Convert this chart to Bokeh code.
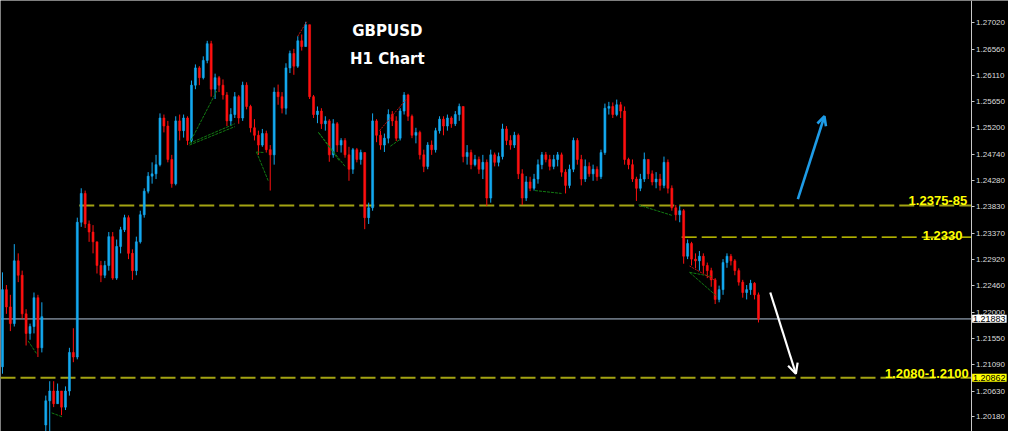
from bokeh.plotting import figure
from bokeh.models import (Range1d, FixedTicker, PrintfTickFormatter, Label,
                          Arrow, OpenHead, ColumnDataSource)
from bokeh.core.properties import value
from bokeh.embed import file_html
from bokeh.resources import INLINE

# ---------------- data (GBPUSD H1) ----------------
first_open = 1.2105
gap_index = 11          # weekend gap bar
gap_open = 1.2004

closes = [
    1.2239, 1.2209, 1.2180, 1.2289, 1.2264, 1.2197, 1.2163, 1.2175, 1.2225, 1.2138,
    1.2192, 1.2046, 1.2063, 1.2041, 1.2063, 1.2035, 1.2063, 1.2130, 1.2122, 1.2356,
    1.2406, 1.2353, 1.2339, 1.2322, 1.2281, 1.2264, 1.2281, 1.2331, 1.2259, 1.2314,
    1.2343, 1.2364, 1.2302, 1.2272, 1.2322, 1.2369, 1.2410, 1.2436, 1.2440, 1.2456,
    1.2537, 1.2523, 1.2465, 1.2423, 1.2532, 1.2515, 1.2537, 1.2498, 1.2594, 1.2624,
    1.2607, 1.2637, 1.2666, 1.2587, 1.2607, 1.2594, 1.2577, 1.2532, 1.2543, 1.2574,
    1.2537, 1.2594, 1.2557, 1.2520, 1.2507, 1.2490, 1.2510, 1.2482, 1.2473, 1.2582,
    1.2574, 1.2554, 1.2624, 1.2649, 1.2627, 1.2671, 1.2661, 1.2699, 1.2574, 1.2543,
    1.2549, 1.2527, 1.2532, 1.2473, 1.2527, 1.2490, 1.2498, 1.2473, 1.2448, 1.2482,
    1.2465, 1.2477, 1.2364, 1.2381, 1.2532, 1.2507, 1.2490, 1.2502, 1.2543, 1.2532,
    1.2502, 1.2549, 1.2577, 1.2540, 1.2507, 1.2512, 1.2473, 1.2453, 1.2490, 1.2482,
    1.2515, 1.2535, 1.2523, 1.2537, 1.2527, 1.2543, 1.2557, 1.2470, 1.2477, 1.2456,
    1.2465, 1.2448, 1.2460, 1.2398, 1.2473, 1.2460, 1.2470, 1.2518, 1.2498, 1.2490,
    1.2507, 1.2440, 1.2398, 1.2426, 1.2415, 1.2431, 1.2456, 1.2473, 1.2465, 1.2453,
    1.2465, 1.2473, 1.2443, 1.2420, 1.2448, 1.2498, 1.2465, 1.2431, 1.2453, 1.2440,
    1.2448, 1.2435, 1.2477, 1.2554, 1.2557, 1.2543, 1.2560, 1.2549, 1.2465, 1.2456,
    1.2431, 1.2415, 1.2431, 1.2465, 1.2440, 1.2426, 1.2431, 1.2420, 1.2460, 1.2415,
    1.2381, 1.2369, 1.2376, 1.2297, 1.2319, 1.2292, 1.2289, 1.2297, 1.2281, 1.2272,
    1.2256, 1.2222, 1.2239, 1.2286, 1.2297, 1.2289, 1.2272, 1.2252, 1.2234, 1.2239,
    1.2250, 1.2230, 1.21883,
]

highs = [
    1.2269, 1.2247, 1.2230, 1.2318, 1.2302, 1.2272, 1.2205, 1.2180, 1.2234, 1.2230,
    1.2217, 1.2055, 1.2080, 1.2080, 1.2076, 1.2063, 1.2071, 1.2138, 1.2172, 1.2364,
    1.2415, 1.2411, 1.2359, 1.2351, 1.2322, 1.2289, 1.2289, 1.2339, 1.2339, 1.2326,
    1.2348, 1.2369, 1.2368, 1.2309, 1.2331, 1.2376, 1.2415, 1.2443, 1.2460, 1.2473,
    1.2545, 1.2543, 1.2532, 1.2473, 1.2540, 1.2543, 1.2543, 1.2540, 1.2602, 1.2630,
    1.2627, 1.2644, 1.2671, 1.2671, 1.2614, 1.2610, 1.2604, 1.2582, 1.2554, 1.2582,
    1.2577, 1.2600, 1.2599, 1.2560, 1.2535, 1.2515, 1.2518, 1.2515, 1.2490, 1.2590,
    1.2595, 1.2582, 1.2632, 1.2654, 1.2657, 1.2679, 1.2682, 1.2704, 1.2699, 1.2577,
    1.2557, 1.2554, 1.2540, 1.2535, 1.2535, 1.2530, 1.2502, 1.2502, 1.2487, 1.2485,
    1.2485, 1.2482, 1.2477, 1.2390, 1.2545, 1.2535, 1.2515, 1.2510, 1.2552, 1.2549,
    1.2540, 1.2554, 1.2582, 1.2579, 1.2543, 1.2520, 1.2515, 1.2482, 1.2495, 1.2498,
    1.2520, 1.2540, 1.2540, 1.2543, 1.2540, 1.2549, 1.2562, 1.2557, 1.2490, 1.2482,
    1.2473, 1.2470, 1.2473, 1.2465, 1.2482, 1.2477, 1.2477, 1.2527, 1.2523, 1.2507,
    1.2513, 1.2510, 1.2448, 1.2436, 1.2435, 1.2440, 1.2465, 1.2478, 1.2478, 1.2473,
    1.2473, 1.2478, 1.2477, 1.2448, 1.2456, 1.2503, 1.2502, 1.2473, 1.2465, 1.2460,
    1.2456, 1.2453, 1.2482, 1.2562, 1.2565, 1.2564, 1.2569, 1.2565, 1.2557, 1.2468,
    1.2465, 1.2435, 1.2440, 1.2477, 1.2465, 1.2446, 1.2443, 1.2440, 1.2470, 1.2465,
    1.2420, 1.2386, 1.2384, 1.2379, 1.2326, 1.2322, 1.2302, 1.2306, 1.2302, 1.2286,
    1.2277, 1.2259, 1.2246, 1.2292, 1.2302, 1.2301, 1.2292, 1.2276, 1.2256, 1.2247,
    1.2256, 1.2252, 1.2234,
]

lows = [
    1.2093, 1.2197, 1.2167, 1.2175, 1.2252, 1.2189, 1.2142, 1.2152, 1.2163, 1.2122,
    1.2130, 1.1979, 1.1984, 1.2035, 1.2041, 1.2021, 1.2030, 1.2055, 1.2113, 1.2118,
    1.2348, 1.2346, 1.2322, 1.2302, 1.2267, 1.2252, 1.2259, 1.2272, 1.2256, 1.2256,
    1.2302, 1.2339, 1.2292, 1.2256, 1.2264, 1.2319, 1.2364, 1.2406, 1.2423, 1.2431,
    1.2453, 1.2512, 1.2460, 1.2416, 1.2420, 1.2498, 1.2503, 1.2490, 1.2493, 1.2587,
    1.2594, 1.2604, 1.2632, 1.2574, 1.2570, 1.2582, 1.2569, 1.2523, 1.2523, 1.2537,
    1.2527, 1.2532, 1.2552, 1.2512, 1.2498, 1.2473, 1.2487, 1.2477, 1.2411, 1.2456,
    1.2560, 1.2545, 1.2543, 1.2615, 1.2612, 1.2624, 1.2654, 1.2661, 1.2570, 1.2537,
    1.2528, 1.2518, 1.2515, 1.2461, 1.2468, 1.2478, 1.2477, 1.2468, 1.2428, 1.2440,
    1.2460, 1.2456, 1.2344, 1.2353, 1.2376, 1.2495, 1.2482, 1.2478, 1.2493, 1.2523,
    1.2497, 1.2498, 1.2543, 1.2532, 1.2502, 1.2493, 1.2465, 1.2443, 1.2448, 1.2473,
    1.2477, 1.2510, 1.2507, 1.2515, 1.2520, 1.2523, 1.2532, 1.2460, 1.2456, 1.2448,
    1.2453, 1.2440, 1.2431, 1.2384, 1.2390, 1.2453, 1.2453, 1.2465, 1.2490, 1.2482,
    1.2485, 1.2431, 1.2386, 1.2393, 1.2410, 1.2411, 1.2423, 1.2448, 1.2460, 1.2446,
    1.2448, 1.2453, 1.2435, 1.2406, 1.2415, 1.2443, 1.2456, 1.2420, 1.2426, 1.2435,
    1.2428, 1.2428, 1.2431, 1.2473, 1.2543, 1.2537, 1.2540, 1.2537, 1.2456, 1.2448,
    1.2426, 1.2393, 1.2410, 1.2426, 1.2431, 1.2420, 1.2415, 1.2411, 1.2415, 1.2406,
    1.2376, 1.2359, 1.2356, 1.2284, 1.2292, 1.2281, 1.2276, 1.2272, 1.2267, 1.2259,
    1.2244, 1.2214, 1.2217, 1.2230, 1.2277, 1.2281, 1.2264, 1.2246, 1.2225, 1.2222,
    1.2230, 1.2222, 1.2182,
]

axis_ticks = [1.27020, 1.26560, 1.26110, 1.25650, 1.25200, 1.24740, 1.24280, 1.23830,
              1.23370, 1.22920, 1.22460, 1.22000, 1.21550, 1.21090, 1.20630, 1.20180]

current_price = 1.21883
level_upper = 1.2385          # "1.2375-85"
level_upper_start = 19.5
level_mid = 1.2330            # "1.2330"
level_mid_start = 172.5
level_target = 1.20862        # "1.2080-1.2100"

# arrows: (x_start, y_start, x_end, y_end)
arrow_up = (202.0, 1.2396, 208.75, 1.2540)
arrow_down = (195.0, 1.2234, 201.5, 1.2093)

# pattern lines drawn on chart (x0, y0, x1, y1)
green_lines = [
    (47.5, 1.2493, 54.5, 1.2585),
    (47.5, 1.2493, 59.0, 1.2527),
    (47.5, 1.2490, 59.0, 1.2522),
    (64.5, 1.2478, 67.5, 1.2428),
    (64.5, 1.2478, 66.5, 1.2477),
    (80.25, 1.2512, 87.0, 1.2453),
    (80.25, 1.2512, 85.5, 1.2463),
    (161.5, 1.2386, 170.0, 1.2368),
    (174.5, 1.2269, 181.5, 1.2227),
    (174.5, 1.2269, 180.0, 1.2262),
    (6.5, 1.2150, 8.75, 1.2127),
    (12.5, 1.2025, 15.25, 1.2018),
    (135.25, 1.2411, 142.0, 1.2406),
    (98.5, 1.2488, 101.0, 1.2500),
]
red_lines = [
    (75.0, 1.2679, 77.25, 1.2704),
    (95.75, 1.2515, 102.5, 1.2569),
    (174.5, 1.2280, 181.0, 1.2255),
]

AXIS_X = 246.0   # position of the price scale (bar units)

# ---------------- derived ----------------
opens = [first_open] + closes[:-1]
opens[gap_index] = gap_open
idx = list(range(len(closes)))
BULL = "#14A9F0"
BEAR = "#FF1010"
colors = [BULL if c >= o else BEAR for o, c in zip(opens, closes)]
src = ColumnDataSource(dict(
    x=idx, o=opens, c=closes, h=highs, l=lows,
    top=[max(o, c) for o, c in zip(opens, closes)],
    bot=[min(o, c) for o, c in zip(opens, closes)],
    color=colors,
))

p = figure(width=1008, height=431, output_backend="svg", toolbar_location=None,
           x_range=Range1d(-0.5, 255.5), y_range=Range1d(1.19927, 1.27410),
           y_axis_location="right", min_border=0,
           background_fill_color="black", border_fill_color="black",
           outline_line_color=None)
p.xaxis.visible = False
p.grid.visible = False

ax = p.yaxis[0]
ax.fixed_location = AXIS_X
ax.ticker = FixedTicker(ticks=axis_ticks)
ax.formatter = PrintfTickFormatter(format="%.5f")
ax.axis_line_color = "#c8c8c8"
ax.major_tick_line_color = "#c8c8c8"
ax.major_tick_out = 3
ax.major_tick_in = 0
ax.minor_tick_line_color = None
ax.major_label_text_color = "#dcdcdc"
ax.major_label_text_font = "Liberation Sans"
ax.major_label_text_font_size = "8px"
ax.major_label_standoff = 2

# horizontal levels (under candles)
p.segment(x0=[-0.5], y0=[current_price], x1=[AXIS_X], y1=[current_price],
          line_color="#66707c", line_width=1.6)
p.segment(x0=[-0.5, level_upper_start], y0=[level_target, level_upper],
          x1=[AXIS_X, AXIS_X], y1=[level_target, level_upper],
          line_color="#a3a312", line_width=2, line_dash="15 5")
p.segment(x0=[level_mid_start], y0=[level_mid], x1=[AXIS_X], y1=[level_mid],
          line_color="#e8e800", line_width=1.3, line_dash="15 5")

# candles
p.segment(x0="x", y0="h", x1="x", y1="l", color="color", line_width=1, source=src)
p.vbar(x="x", width=0.5, top="top", bottom="bot", fill_color="color",
       line_color="color", line_width=0.6, source=src)

# pattern lines
p.segment(x0=[g[0] for g in green_lines], y0=[g[1] for g in green_lines],
          x1=[g[2] for g in green_lines], y1=[g[3] for g in green_lines],
          line_color="#127a12", line_width=1, line_dash="3 1")
p.segment(x0=[r[0] for r in red_lines], y0=[r[1] for r in red_lines],
          x1=[r[2] for r in red_lines], y1=[r[3] for r in red_lines],
          line_color="#c01010", line_width=1, line_dash="2 1")

# arrows
p.add_layout(Arrow(x_start=arrow_up[0], y_start=arrow_up[1], x_end=arrow_up[2], y_end=arrow_up[3],
                   line_color="#1E9BE6", line_width=2.6,
                   end=OpenHead(size=9, line_color="#1E9BE6", line_width=2.6)))
p.add_layout(Arrow(x_start=arrow_down[0], y_start=arrow_down[1], x_end=arrow_down[2], y_end=arrow_down[3],
                   line_color="white", line_width=2.2,
                   end=OpenHead(size=10, line_color="white", line_width=2.2)))

# texts
YEL = "#ffff00"
for txt, xx, yy in [("1.2375-85", 245.0, 1.23945), ("1.2330", 243.8, 1.23325),
                    ("1.2080-1.2100", 245.4, 1.20932)]:
    p.add_layout(Label(x=xx, y=yy, text=txt, text_align="right", text_baseline="alphabetic",
                       text_color=YEL, text_font="Liberation Sans", text_font_style="bold",
                       text_font_size="13px"))

p.text(x=[97.75, 97.75], y=[1.26880, 1.26390], text=["GBPUSD", "H1 Chart"],
       text_align="center", text_baseline="alphabetic", text_color="white",
       text_font=value("DejaVu Sans"), text_font_style="bold", text_font_size="15px")

# price boxes on the axis
for txt, yy, bg in [("1.21883", current_price, "white"), ("1.20862", level_target, "#ffff00")]:
    p.add_layout(Label(x=AXIS_X, x_offset=1, y=yy, text=txt, text_align="left",
                       text_baseline="middle", text_color="black", text_font="Liberation Sans",
                       text_font_size="9px", background_fill_color=bg, padding=1))

open("out.html", "w").write(file_html(p, INLINE))
